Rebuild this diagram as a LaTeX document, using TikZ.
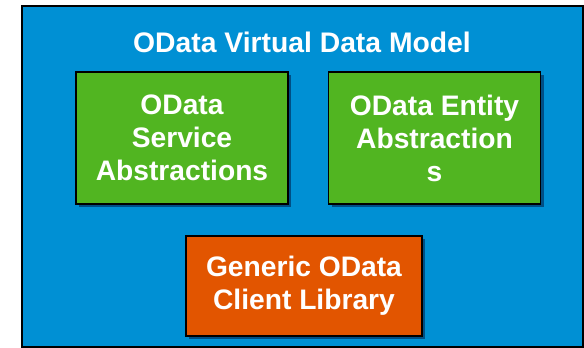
\documentclass[tikz,border=0pt]{standalone}
\usepackage{fontspec}
\setmainfont{Liberation Sans}
\usetikzlibrary{shadows}
\definecolor{bgblue}{HTML}{0090D4}
\definecolor{boxgreen}{HTML}{51B521}
\definecolor{boxorange}{HTML}{E25500}
\begin{document}
\begin{tikzpicture}[x=1pt,y=-1pt,
  outerbox/.style={draw=black,line width=2pt,fill=bgblue,minimum width=561pt,minimum height=341pt,inner sep=0pt},
  titletext/.style={text=white,font=\bfseries\fontsize{28.3}{33}\selectfont,inner sep=0pt},
  block/.style={draw=black,line width=1.6pt,text=white,align=center,inner sep=0pt,
    font=\bfseries\fontsize{28.2}{33}\selectfont,
    drop shadow={shadow xshift=3pt,shadow yshift=-3pt,opacity=0.45,fill=black!85!blue}},
  greenblock/.style={block,fill=boxgreen,minimum width=212pt,minimum height=132pt},
  orangeblock/.style={block,fill=boxorange,minimum width=236pt,minimum height=100pt}]
\useasboundingbox (0,0) rectangle (584,348);
\node[outerbox] (outer) at (302,176) {};
\node[titletext,anchor=base] (title) at (302,52) {OData Virtual Data Model};
\node[greenblock] (svc) at (182,138) {OData\\Service\\Abstractions};
\node[greenblock] (ent) at (434.5,138) {OData Entity\\Abstraction\\s};
\node[orangeblock] (lib) at (304,286) {Generic OData\\Client Library};
\end{tikzpicture}
\end{document}
